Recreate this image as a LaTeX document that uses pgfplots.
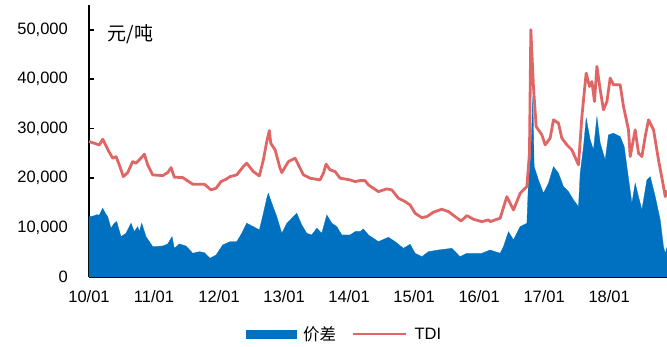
\documentclass[border=0pt]{standalone}
\usepackage{pgfplots}
\pgfplotsset{compat=1.18}
\usepackage{fontspec}
\setmainfont{Liberation Sans}
\newfontfamily\cjk{Noto Sans CJK SC}
\definecolor{blueA}{RGB}{0,112,192}
\definecolor{redA}{RGB}{224,102,102}
\begin{document}
\begin{tikzpicture}
\useasboundingbox (0,0) rectangle (667pt,347pt);
\begin{axis}[
  at={(89pt,70pt)}, anchor=south west,
  scale only axis, width=578pt, height=272pt,
  xmin=10, xmax=18.889, ymin=0, ymax=55000,
  axis x line=bottom, axis y line=left,
  axis line style={line width=1.6pt, -},
  tick align=inside, major tick length=5pt,
  every tick/.style={line width=1.6pt, black},
  xtick={10,11,12,13,14,15,16,17,18},
  xticklabels={10/01,11/01,12/01,13/01,14/01,15/01,16/01,17/01,18/01},
  ytick={0,10000,20000,30000,40000,50000},
  scaled y ticks=false,
  /pgf/number format/assume math mode=true,
  yticklabel={\pgfmathprintnumber[1000 sep={,}]{\tick}},
  tick label style={font=\fontsize{16.5}{19}\selectfont},
  yticklabel style={inner xsep=0pt, xshift=-21pt},
  xticklabel style={inner ysep=0pt, yshift=-13pt},
  clip=false,
  legend columns=2,
  legend style={draw=none, at={(rel axis cs:0.442,-0.21)}, anchor=center,
    font=\fontsize{16.5}{19}\selectfont,
    /tikz/every odd column/.append style={column sep=5pt},
    /tikz/every even column/.append style={column sep=14pt}},
]
\addplot[fill=blueA, draw=blueA, line width=0.3pt,
  legend image code/.code={\fill[blueA] (0pt,-4pt) rectangle (50pt,4pt);}]
coordinates {
(10.0,12200)(10.06,12300)(10.12,12600)(10.158,12500)(10.211,13900)(10.25,12900)(10.288,12200)(10.338,9850)(10.389,10870)
(10.426,11200)(10.492,8160)(10.569,8840)(10.646,10870)(10.697,9170)(10.749,10180)(10.774,9170)
(10.811,10870)(10.877,8160)(10.98,6130)(11.134,6270)(11.211,6680)(11.277,8160)(11.312,5800)
(11.389,6680)(11.492,6270)(11.595,4800)(11.697,5120)(11.774,4920)(11.862,3780)(11.954,4450)
(12.057,6480)(12.169,7140)(12.272,7140)(12.349,8840)(12.426,10870)(12.528,10180)(12.62,9510)
(12.682,12890)(12.734,15930)(12.758,16940)(12.811,14920)(12.888,12200)(12.965,8840)(13.042,10870)
(13.118,11880)(13.195,12890)(13.272,10520)(13.349,8840)(13.426,8500)(13.503,9860)(13.58,8840)
(13.657,12550)(13.734,10870)(13.811,10180)(13.888,8500)(14.015,8500)(14.092,9170)(14.169,9170)
(14.22,9720)(14.297,8500)(14.451,7140)(14.605,8040)(14.708,7140)(14.835,5800)(14.938,6620)
(15.015,4800)(15.118,4110)(15.22,5120)(15.374,5460)(15.58,5800)(15.708,4110)(15.811,4800)
(16.042,4800)(16.169,5460)(16.246,5120)(16.323,4800)(16.374,6130)(16.451,9170)(16.528,7490)
(16.631,10180)(16.734,10870)(16.758,18960)(16.795,25040)(16.826,36490)(16.846,22320)(16.912,19630)
(16.989,16940)(17.066,18960)(17.143,22320)(17.22,20990)(17.297,18280)(17.374,17260)(17.451,15580)
(17.528,14230)(17.554,20990)(17.605,26370)(17.646,32120)(17.708,27730)(17.758,25700)(17.811,32440)
(17.862,27060)(17.938,23680)(17.989,28740)(18.066,29080)(18.169,28400)(18.231,26370)(18.272,22320)
(18.349,14920)(18.4,18960)(18.451,16250)(18.503,13560)(18.58,19630)(18.631,20300)(18.708,16250)
(18.785,11540)(18.835,6130)(18.862,4800)(18.889,6000)
} \closedcycle;
\addlegendentry{{\cjk 价差}}
\addplot[redA, line width=2.8pt, line join=round,
  legend image code/.code={\draw[redA, line width=2.4pt] (0pt,0pt) -- (53pt,0pt);}]
coordinates {
(10.0,27400)(10.158,26700)(10.211,27870)(10.30,25500)(10.365,24020)(10.415,24350)(10.466,22670)
(10.528,20300)(10.595,21110)(10.672,23340)(10.723,23010)(10.774,23680)(10.851,24830)(10.903,22670)
(10.98,20650)(11.134,20500)(11.211,21110)(11.262,22120)(11.312,20180)(11.442,20100)(11.595,18760)
(11.774,18760)(11.877,17610)(11.954,17950)(12.031,19300)(12.108,19770)(12.169,20300)(12.272,20650)
(12.374,22330)(12.426,23010)(12.528,21310)(12.62,20440)(12.682,23680)(12.734,27390)(12.774,29610)
(12.795,27060)(12.862,25700)(12.938,22000)(12.965,21110)(13.066,23340)(13.169,24020)(13.22,22670)
(13.297,20650)(13.4,19980)(13.554,19630)(13.605,20990)(13.646,22810)(13.708,21660)(13.785,21310)
(13.862,19980)(14.015,19630)(14.092,19290)(14.169,19490)(14.246,19490)(14.297,18620)(14.451,17260)
(14.58,17810)(14.657,17610)(14.758,15930)(14.862,15240)(14.938,14570)(15.015,12890)(15.118,12000)
(15.195,12200)(15.297,13100)(15.426,13700)(15.528,13220)(15.631,12200)(15.723,11330)(15.811,12410)
(15.912,11680)(16.042,11190)(16.143,11540)(16.169,11200)(16.323,11880)(16.426,16250)(16.528,13560)
(16.631,16940)(16.734,18280)(16.774,25040)(16.795,49990)(16.835,38520)(16.877,30420)(16.965,28740)
(17.015,26720)(17.092,28070)(17.143,31780)(17.22,31110)(17.272,28070)(17.349,26720)(17.426,25700)
(17.528,22670)(17.58,32440)(17.646,41230)(17.697,38520)(17.734,39530)(17.774,35480)(17.811,42570)
(17.862,37850)(17.912,33800)(17.965,35480)(18.015,40220)(18.066,38860)(18.169,38860)(18.22,34470)
(18.297,29750)(18.323,24350)(18.4,29750)(18.451,25040)(18.503,24350)(18.554,28400)(18.605,31780)
(18.682,29750)(18.758,23680)(18.826,18960)(18.862,16250)(18.889,17500)
};
\addlegendentry{TDI}
\node[anchor=west, inner sep=0pt, font=\cjk\fontsize{19}{22}\selectfont] at (rel axis cs:0.032,0.893) {元/吨};
\end{axis}
\end{tikzpicture}
\end{document}
